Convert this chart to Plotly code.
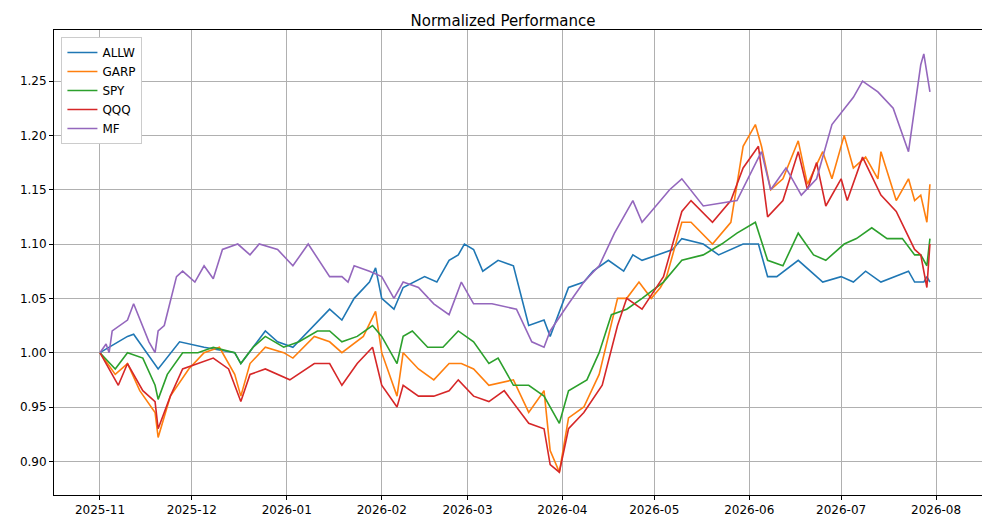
import pandas as pd
import plotly.graph_objects as go

start = pd.Timestamp('2025-11-01')

allw_days = [0, 9, 11, 19, 26, 34, 44, 46, 54, 58, 63, 68, 75, 79, 83, 88, 90, 92, 96, 99, 106, 110, 114, 117, 119, 122, 125, 130, 135, 140, 145, 147, 153, 158, 161, 166, 171, 174, 177, 182, 187, 190, 197, 202, 210, 215, 218, 221, 228, 234, 236, 242, 246, 250, 255, 264, 266, 269, 270, 271]
allw_vals = [1.000, 1.015, 1.017, 0.985, 1.010, 1.005, 1.000, 0.990, 1.020, 1.010, 1.005, 1.020, 1.040, 1.030, 1.050, 1.065, 1.078, 1.050, 1.040, 1.060, 1.070, 1.065, 1.085, 1.090, 1.100, 1.095, 1.075, 1.085, 1.080, 1.025, 1.030, 1.015, 1.060, 1.065, 1.075, 1.085, 1.075, 1.090, 1.085, 1.090, 1.095, 1.105, 1.100, 1.090, 1.100, 1.100, 1.070, 1.070, 1.085, 1.070, 1.065, 1.070, 1.065, 1.075, 1.065, 1.075, 1.065, 1.065, 1.070, 1.065]

garp_days = [0, 5, 9, 13, 18, 19, 23, 29, 34, 39, 44, 46, 49, 54, 60, 63, 70, 75, 79, 86, 90, 92, 97, 99, 104, 109, 114, 118, 122, 127, 135, 140, 145, 147, 150, 153, 158, 163, 169, 172, 176, 180, 183, 185, 190, 193, 200, 206, 210, 214, 216, 219, 223, 228, 231, 236, 239, 243, 246, 250, 254, 255, 260, 264, 266, 268, 270, 271]
garp_vals = [1.000, 0.980, 0.990, 0.965, 0.945, 0.922, 0.960, 0.985, 1.000, 1.005, 0.980, 0.960, 0.990, 1.005, 1.000, 0.995, 1.015, 1.010, 1.000, 1.015, 1.038, 1.000, 0.960, 1.000, 0.985, 0.975, 0.990, 0.990, 0.985, 0.970, 0.975, 0.945, 0.965, 0.910, 0.890, 0.940, 0.950, 0.980, 1.050, 1.050, 1.065, 1.050, 1.060, 1.070, 1.120, 1.120, 1.100, 1.120, 1.190, 1.210, 1.190, 1.150, 1.160, 1.195, 1.155, 1.185, 1.160, 1.200, 1.170, 1.180, 1.160, 1.185, 1.140, 1.160, 1.140, 1.145, 1.120, 1.155]

spy_days = [0, 5, 9, 14, 18, 19, 22, 27, 32, 37, 44, 46, 50, 54, 60, 65, 71, 75, 79, 84, 89, 92, 97, 99, 102, 107, 112, 117, 122, 127, 130, 135, 140, 145, 150, 153, 159, 163, 167, 172, 177, 184, 190, 197, 203, 208, 214, 218, 223, 228, 233, 237, 243, 247, 252, 257, 262, 266, 268, 270, 271]
spy_vals = [1.000, 0.985, 1.000, 0.995, 0.970, 0.957, 0.980, 1.000, 1.000, 1.005, 1.000, 0.990, 1.005, 1.015, 1.005, 1.010, 1.020, 1.020, 1.010, 1.015, 1.025, 1.015, 0.990, 1.015, 1.020, 1.005, 1.005, 1.020, 1.010, 0.990, 0.995, 0.970, 0.970, 0.960, 0.935, 0.965, 0.975, 1.000, 1.035, 1.040, 1.050, 1.065, 1.085, 1.090, 1.100, 1.110, 1.120, 1.085, 1.080, 1.110, 1.090, 1.085, 1.100, 1.105, 1.115, 1.105, 1.105, 1.090, 1.090, 1.080, 1.105]

qqq_days = [0, 4, 6, 9, 14, 18, 19, 23, 27, 32, 37, 42, 46, 49, 54, 62, 70, 75, 79, 84, 89, 92, 97, 99, 104, 109, 114, 117, 122, 127, 132, 140, 145, 147, 150, 153, 158, 164, 169, 172, 177, 184, 190, 193, 200, 206, 210, 215, 218, 223, 228, 231, 234, 237, 242, 244, 249, 255, 260, 266, 268, 270, 271]
qqq_vals = [1.000, 0.980, 0.970, 0.990, 0.965, 0.955, 0.930, 0.960, 0.985, 0.990, 0.995, 0.985, 0.955, 0.980, 0.985, 0.975, 0.990, 0.990, 0.970, 0.990, 1.005, 0.970, 0.950, 0.970, 0.960, 0.960, 0.965, 0.975, 0.960, 0.955, 0.965, 0.935, 0.930, 0.897, 0.890, 0.930, 0.945, 0.970, 1.025, 1.050, 1.040, 1.070, 1.130, 1.140, 1.120, 1.140, 1.170, 1.190, 1.125, 1.140, 1.185, 1.150, 1.175, 1.135, 1.160, 1.140, 1.180, 1.145, 1.130, 1.095, 1.090, 1.060, 1.100]

mf_days = [0, 2, 3, 4, 9, 11, 16, 18, 19, 21, 25, 27, 31, 34, 37, 40, 45, 49, 52, 58, 63, 68, 75, 79, 81, 83, 88, 92, 96, 99, 104, 109, 114, 118, 122, 128, 136, 141, 145, 147, 153, 158, 163, 168, 174, 177, 180, 186, 190, 197, 208, 216, 219, 224, 229, 234, 239, 246, 249, 254, 259, 264, 266, 268, 269, 271]
mf_vals = [1.000, 1.008, 1.000, 1.020, 1.030, 1.045, 1.010, 1.000, 1.020, 1.025, 1.070, 1.075, 1.065, 1.080, 1.068, 1.095, 1.100, 1.090, 1.100, 1.095, 1.080, 1.100, 1.070, 1.070, 1.065, 1.080, 1.075, 1.070, 1.050, 1.065, 1.060, 1.045, 1.035, 1.065, 1.045, 1.045, 1.040, 1.010, 1.005, 1.020, 1.045, 1.065, 1.080, 1.110, 1.140, 1.120, 1.130, 1.150, 1.160, 1.135, 1.140, 1.185, 1.150, 1.170, 1.145, 1.160, 1.210, 1.235, 1.250, 1.240, 1.225, 1.185, 1.225, 1.265, 1.275, 1.240]

series = [
    ('ALLW', allw_days, allw_vals, '#1f77b4'),
    ('GARP', garp_days, garp_vals, '#ff7f0e'),
    ('SPY', spy_days, spy_vals, '#2ca02c'),
    ('QQQ', qqq_days, qqq_vals, '#d62728'),
    ('MF', mf_days, mf_vals, '#9467bd'),
]

fig = go.Figure()
for name, days, vals, color in series:
    dates = start + pd.to_timedelta(days, unit='D')
    fig.add_trace(go.Scatter(x=dates, y=vals, mode='lines', name=name,
                             line=dict(color=color, width=1.6)))

axis_style = dict(showgrid=True, gridcolor='#b0b0b0', gridwidth=1, showline=True,
                  linecolor='black', linewidth=1, mirror=True, ticks='outside',
                  ticklen=4, tickcolor='black', zeroline=False)

fig.update_layout(
    title=dict(text='Normalized Performance', x=0.5, y=0.985, font=dict(size=15, color='black')),
    width=990, height=528,
    margin=dict(l=42, r=16, t=22, b=41),
    plot_bgcolor='white', paper_bgcolor='white',
    font=dict(family='DejaVu Sans', size=12, color='black'),
    legend=dict(x=0.008, y=0.985, xanchor='left', yanchor='top', bgcolor='white',
                bordercolor='#cccccc', borderwidth=1, font=dict(size=12)),
)
fig.update_xaxes(range=['2025-10-17', '2026-08-16'], dtick='M1', tickformat='%Y-%m', **axis_style)
fig.update_yaxes(range=[0.869, 1.297], dtick=0.05, tickformat='.2f', **axis_style)

fig.write_html('out.html')
